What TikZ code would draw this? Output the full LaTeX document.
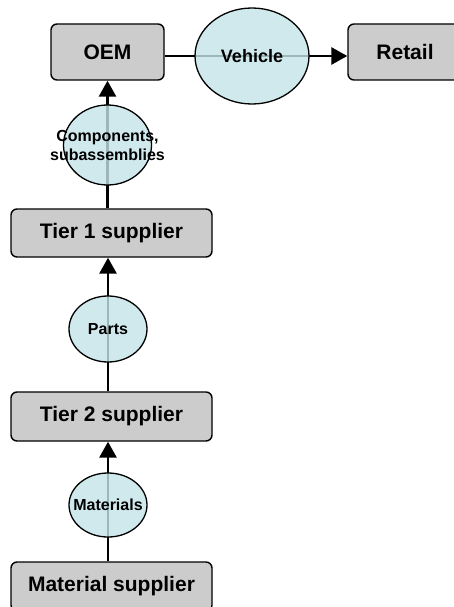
\documentclass[tikz,border=0pt]{standalone}
\usepackage{fontspec}
\setmainfont{Liberation Sans}
\usetikzlibrary{shapes.geometric,arrows.meta,backgrounds}
\definecolor{boxgray}{RGB}{204,204,204}
\definecolor{ellblue}{RGB}{196,228,233}
\begin{document}
\begin{tikzpicture}[x=1pt,y=-1pt,
  box/.style={draw=black, line width=1.4pt, fill=boxgray, rounded corners=6pt,
    font=\bfseries\fontsize{21}{25}\selectfont, inner sep=0pt},
  ell/.style={ellipse, draw=black, line width=1.3pt, fill=ellblue, fill opacity=0.8, inner sep=0pt},
  elltext/.style={font=\bfseries\fontsize{16}{19}\selectfont, align=center, inner sep=0pt},
  flow/.style={line width=2.8pt, -{Triangle[length=16pt,width=17pt]}}]
\useasboundingbox (0,0) rectangle (453,607);
% boxes
\node[box, minimum width=113pt, minimum height=56pt] (oem) at (107.5,52) {OEM};
\node[box, minimum width=114pt, minimum height=56pt] (retail) at (405,52) {Retail};
\node[box, minimum width=201pt, minimum height=48pt] (tier1) at (111.5,233) {Tier 1 supplier};
\node[box, minimum width=201pt, minimum height=49pt] (tier2) at (111.5,416.5) {Tier 2 supplier};
\node[box, minimum width=201pt, minimum height=49pt] (matsup) at (111.5,586.5) {Material supplier};
% ellipses
\node[ell, minimum width=114pt, minimum height=96pt] (veh) at (252,56) {};
\node[ell, minimum width=88pt, minimum height=80pt] (comp) at (107.5,145) {};
\node[ell, minimum width=78pt, minimum height=66pt] (parts) at (108,329) {};
\node[ell, minimum width=78pt, minimum height=64pt] (mat) at (108,505) {};
% ellipse texts
\node[elltext, font=\bfseries\fontsize{18}{21}\selectfont] (veht) at (veh.center) {Vehicle};
\node[elltext] (compt) at (comp.center) {Components,\\subassemblies};
\node[elltext] (partst) at (parts.center) {Parts};
\node[elltext] (matt) at (mat.center) {Materials};
% connectors
\begin{pgfonlayer}{background}
\draw[flow] (veh.center -| oem.east) -- (veh.center -| retail.west);
\draw[flow] (comp.center |- tier1.north) -- (comp.center |- oem.south);
\draw[flow] (parts.center |- tier2.north) -- (parts.center |- tier1.south);
\draw[flow] (mat.center |- matsup.north) -- (mat.center |- tier2.south);
\end{pgfonlayer}
\end{tikzpicture}
\end{document}
